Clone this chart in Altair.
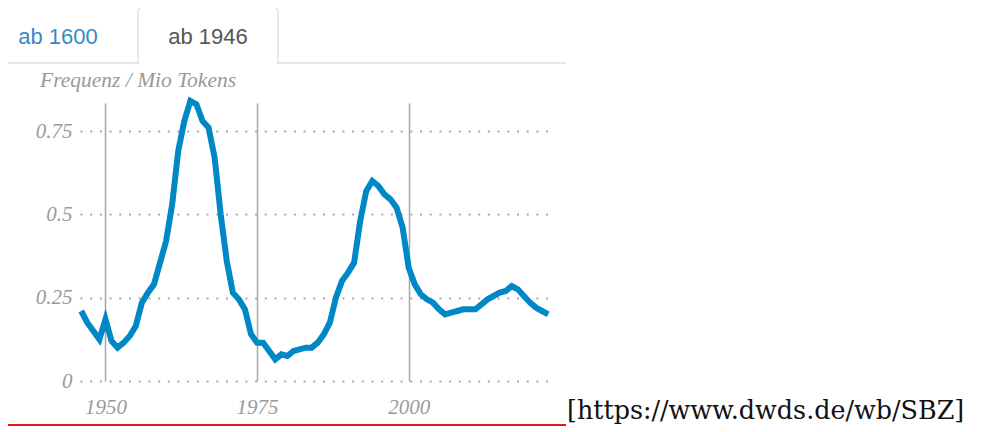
import altair as alt
import pandas as pd

# ---- data ----
years = list(range(1946, 2024))
freq = [
    0.21, 0.175, 0.15, 0.125, 0.185, 0.12, 0.10, 0.115, 0.135, 0.165,   # 1946-1955
    0.235, 0.265, 0.29, 0.355, 0.42, 0.53, 0.69, 0.78, 0.84, 0.83,       # 1956-1965
    0.78, 0.76, 0.67, 0.50, 0.36, 0.265, 0.245, 0.215, 0.14, 0.115,      # 1966-1975
    0.115, 0.09, 0.065, 0.08, 0.075, 0.09, 0.095, 0.10, 0.10, 0.115,     # 1976-1985
    0.14, 0.175, 0.25, 0.30, 0.325, 0.355, 0.48, 0.57, 0.60, 0.585,      # 1986-1995
    0.56, 0.545, 0.52, 0.46, 0.34, 0.29, 0.26, 0.245, 0.235, 0.215,      # 1996-2005
    0.20, 0.205, 0.21, 0.215, 0.215, 0.215, 0.23, 0.245, 0.255, 0.265,   # 2006-2015
    0.27, 0.285, 0.275, 0.255, 0.235, 0.22, 0.21, 0.20,                  # 2016-2023
]
x_ticks = [1950, 1975, 2000]
y_ticks = [0, 0.25, 0.5, 0.75]
tab_labels = ["ab 1600", "ab 1946"]
y_title = "Frequenz / Mio Tokens"
source_text = "[https://www.dwds.de/wb/SBZ]"

df = pd.DataFrame({"year": years, "freq": freq})
one = pd.DataFrame({"k": [0]})

# page coordinates of the plot origin (page margin 8 + padding)
PAD_L, PAD_T = 72, 95
OX, OY = 8 + PAD_L, 8 + PAD_T
W, H = 470, 278
TOTAL_W, TOTAL_H = 968, 421


def px(x):
    return x - OX


def py(y):
    return y - OY


GREY = "#9a9a9a"

line = alt.Chart(df).mark_line(
    color="#0088c6", strokeWidth=6, strokeJoin="miter", clip=False
).encode(
    x=alt.X(
        "year:Q",
        scale=alt.Scale(domain=[1945.8, 2023.3], nice=False, zero=False),
        axis=alt.Axis(
            values=x_ticks, format="d", title=None, grid=True,
            gridColor="#a8a8a8", gridWidth=1.5, gridDash=[1, 0],
            domain=False, ticks=False, tickSize=0, labelPadding=15,
            labelFlush=False,
        ),
    ),
    y=alt.Y(
        "freq:Q",
        scale=alt.Scale(domain=[0, 0.834], nice=False, zero=True),
        axis=alt.Axis(
            values=y_ticks, labelExpr="'' + datum.value", title=None, grid=True,
            gridColor="#a8a8a8", gridWidth=2, gridDash=[2, 7.7],
            domain=False, ticks=False, tickSize=0, labelPadding=8,
            labelFlush=False,
        ),
    ),
)

title_txt = alt.Chart(one).mark_text(
    text=y_title, font="Liberation Serif", fontStyle="italic", fontSize=21.5,
    color=GREY, align="left", baseline="alphabetic",
).encode(x=alt.value(px(40)), y=alt.value(py(87)))

tab_box = alt.Chart(one).mark_rect(
    fill="white", stroke="#dddddd", strokeWidth=1.3,
    cornerRadiusTopLeft=5, cornerRadiusTopRight=5,
).encode(
    x=alt.value(px(138)), x2=alt.value(px(278)),
    y=alt.value(py(7)), y2=alt.value(py(63)),
)

base_left = alt.Chart(one).mark_rule(color="#dddddd", strokeWidth=1.3).encode(
    x=alt.value(px(6)), x2=alt.value(px(138)), y=alt.value(py(63))
)
base_right = alt.Chart(one).mark_rule(color="#dddddd", strokeWidth=1.3).encode(
    x=alt.value(px(278)), x2=alt.value(px(566)), y=alt.value(py(63))
)
tab_cover = alt.Chart(one).mark_rule(color="white", strokeWidth=2.5).encode(
    x=alt.value(px(139)), x2=alt.value(px(277)), y=alt.value(py(63))
)

tab1 = alt.Chart(one).mark_text(
    text=tab_labels[0], font="Liberation Sans", fontSize=22, color="#3a87c6",
    align="center", baseline="alphabetic",
).encode(x=alt.value(px(58)), y=alt.value(py(44)))
tab2 = alt.Chart(one).mark_text(
    text=tab_labels[1], font="Liberation Sans", fontSize=22, color="#555555",
    align="center", baseline="alphabetic",
).encode(x=alt.value(px(208)), y=alt.value(py(44)))

red_line = alt.Chart(one).mark_rule(color="#e8141b", strokeWidth=2.2).encode(
    x=alt.value(px(5)), x2=alt.value(px(566)), y=alt.value(py(425))
)
src = alt.Chart(one).mark_text(
    text=source_text, font="DejaVu Serif", fontSize=25.4, color="#111111",
    align="left", baseline="alphabetic",
).encode(x=alt.value(px(567)), y=alt.value(py(419)))

chart = alt.layer(
    line, title_txt, tab_box, base_left, base_right, tab_cover, tab1, tab2,
    red_line, src,
).properties(
    width=W, height=H,
    padding={"left": PAD_L, "top": PAD_T, "right": TOTAL_W - PAD_L - W,
             "bottom": TOTAL_H - PAD_T - H},
    autosize=alt.AutoSizeParams(type="none"),
    background="white",
).configure_view(stroke=None).configure_axis(
    labelFont="Liberation Serif", labelFontStyle="italic", labelFontSize=21,
    labelColor=GREY,
)

chart.save("out.html", embed_options={"renderer": "svg", "actions": False})
